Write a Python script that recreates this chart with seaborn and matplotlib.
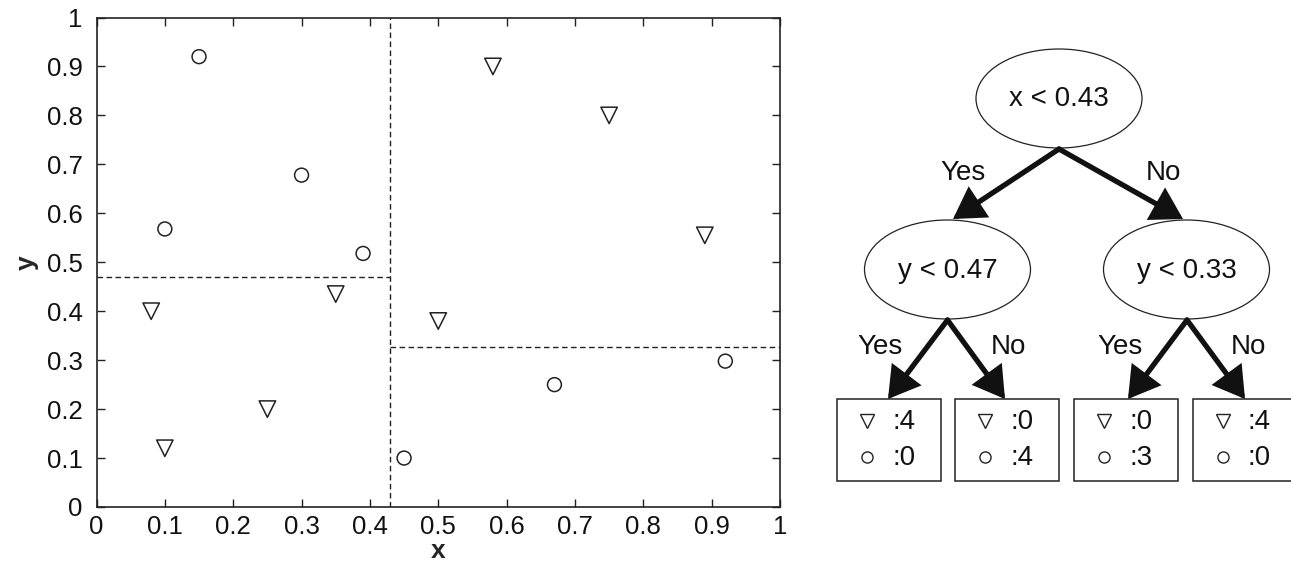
import numpy as np
import seaborn as sns
import matplotlib.pyplot as plt
from matplotlib.patches import Ellipse, Rectangle, FancyArrowPatch

# points of the two classes
tri_x = [0.08, 0.10, 0.25, 0.35, 0.50, 0.58, 0.75, 0.89]
tri_y = [0.40, 0.12, 0.20, 0.435, 0.38, 0.90, 0.80, 0.555]
circ_x = [0.15, 0.10, 0.30, 0.39, 0.45, 0.67, 0.92]
circ_y = [0.92, 0.568, 0.678, 0.518, 0.10, 0.25, 0.298]

# splits of the tree
split_x = 0.43
split_y_left = 0.47
split_y_right = 0.326
split_labels = ["x < 0.43", "y < 0.47", "y < 0.33"]

tick_vals = [0, 0.1, 0.2, 0.3, 0.4, 0.5, 0.6, 0.7, 0.8, 0.9, 1]
tick_labels = ["0", "0.1", "0.2", "0.3", "0.4", "0.5", "0.6", "0.7", "0.8", "0.9", "1"]

sns.set_style("ticks")
plt.rcParams["font.family"] = ["Liberation Sans", "DejaVu Sans"]

fig = plt.figure(figsize=(12.91, 5.63), dpi=100)
ax = fig.add_axes([96.5 / 1291, 1 - 507 / 563, (780 - 96.5) / 1291, (507 - 17.5) / 563])

sns.scatterplot(x=tri_x, y=tri_y, marker="v", s=140, facecolor="none",
                edgecolor="#222222", linewidth=1.1, ax=ax, legend=False)
sns.scatterplot(x=circ_x, y=circ_y, marker="o", s=100, facecolor="none",
                edgecolor="#222222", linewidth=1.1, ax=ax, legend=False)

dash = dict(color="#222222", lw=1.0, dashes=(4, 2.5))
ax.plot([split_x, split_x], [0, 1], **dash)
ax.plot([0, split_x], [split_y_left, split_y_left], **dash)
ax.plot([split_x, 1], [split_y_right, split_y_right], **dash)

ax.set_xlim(0, 1)
ax.set_ylim(0, 1)
ax.set_xticks(tick_vals)
ax.set_xticklabels(tick_labels)
ax.set_yticks(tick_vals)
ax.set_yticklabels(tick_labels)
ax.tick_params(direction="in", length=5.5, width=1, top=True, right=True,
               labelsize=18.5, color="#222222", labelcolor="#111111")
ax.tick_params(axis="x", pad=6)
ax.tick_params(axis="y", pad=10)
for sp in ax.spines.values():
    sp.set_linewidth(1.2)
    sp.set_color("#222222")
ax.set_xlabel("x", fontsize=19, fontweight="bold", labelpad=0)
ax.set_ylabel("y", fontsize=19, fontweight="bold", labelpad=6)

# leaf counts from the data
tx, ty = np.array(tri_x), np.array(tri_y)
cx, cy = np.array(circ_x), np.array(circ_y)
leaf_masks_t = [(tx < split_x) & (ty < split_y_left), (tx < split_x) & (ty >= split_y_left),
                (tx >= split_x) & (ty < split_y_right), (tx >= split_x) & (ty >= split_y_right)]
leaf_masks_c = [(cx < split_x) & (cy < split_y_left), (cx < split_x) & (cy >= split_y_left),
                (cx >= split_x) & (cy < split_y_right), (cx >= split_x) & (cy >= split_y_right)]
tri_counts = [int(m.sum()) for m in leaf_masks_t]
circ_counts = [int(m.sum()) for m in leaf_masks_c]

# tree diagram, in pixel coordinates
tr = fig.add_axes([820 / 1291, 0, 471 / 1291, 1])
tr.set_xlim(820, 1291)
tr.set_ylim(563, 0)
tr.axis("off")

nodes = [(1059, 98.5), (947.5, 269.5), (1186.5, 269.5)]
for (nx, ny), lab in zip(nodes, split_labels):
    tr.add_patch(Ellipse((nx, ny), 166, 99, fc="white", ec="#222222", lw=0.9))
    tr.text(nx, ny + 1, lab, ha="center", va="center", fontsize=20, color="#111111")

arrows = [((1059, 149), (953, 219)), ((1059, 149), (1183, 219)),
          ((947.5, 320), (888, 399)), ((947.5, 320), (1005, 399)),
          ((1187, 320), (1128, 399)), ((1187, 320), (1245, 399))]
for a, b in arrows:
    tr.add_patch(FancyArrowPatch(a, b, arrowstyle="-|>,head_length=0.7,head_width=0.42",
                                 mutation_scale=24, lw=3.8, color="#111111",
                                 shrinkA=0, shrinkB=0, joinstyle="miter"))

edge_labels = [(963, 173, "Yes"), (1163, 173, "No"), (880, 347, "Yes"),
               (1008, 347, "No"), (1120, 347, "Yes"), (1248, 347, "No")]
for ex, ey, lab in edge_labels:
    tr.text(ex, ey, lab, ha="center", va="center", fontsize=20, color="#111111")

box_lefts = [837, 955, 1074, 1193]
for bx, nt, nc in zip(box_lefts, tri_counts, circ_counts):
    tr.add_patch(Rectangle((bx, 399), 104, 82, fc="white", ec="#222222", lw=1.1,
                           clip_on=False))
    tr.plot(bx + 30, 421, marker="v", ms=10, mfc="none", mec="#222222", mew=1.0)
    tr.plot(bx + 30, 457, marker="o", ms=8, mfc="none", mec="#222222", mew=1.0)
    tr.text(bx + 55, 422, ":%d" % nt, ha="left", va="center", fontsize=20, color="#111111")
    tr.text(bx + 55, 458, ":%d" % nc, ha="left", va="center", fontsize=20, color="#111111")

fig.savefig("out.png", dpi=100)
